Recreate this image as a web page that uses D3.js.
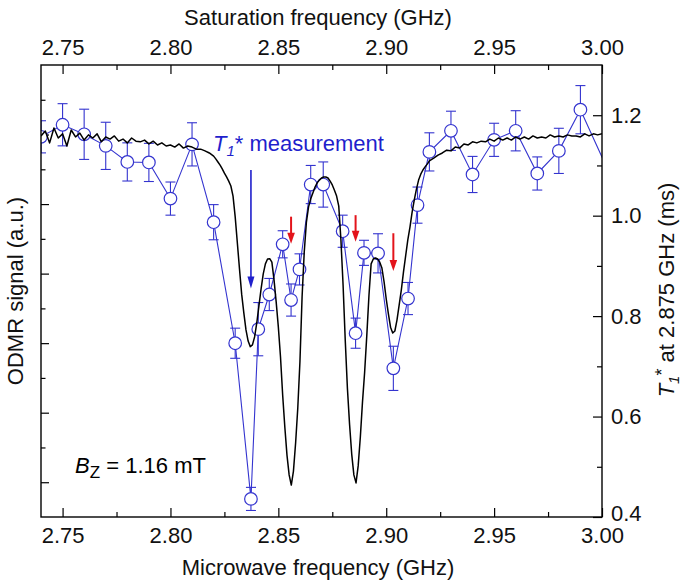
<!DOCTYPE html>
<html><head><meta charset="utf-8">
<script src="https://cdn.jsdelivr.net/npm/d3@7"></script>
<style>body{margin:0;background:#fff}svg{display:block;font-family:"Liberation Sans",Arial,Helvetica,sans-serif}</style>
</head><body><svg id="chart" width="685" height="581"></svg>
<script>
// ODMR trace (left axis, a.u.)
const odmrFreq = [
2.740,2.742,2.744,2.746,2.748,2.750,2.752,2.754,2.756,2.758,
2.760,2.762,2.764,2.766,2.768,2.770,2.772,2.774,2.776,2.778,
2.780,2.782,2.784,2.786,2.788,2.790,2.792,2.794,2.796,2.798,
2.800,2.802,2.804,2.806,2.808,2.810,2.812,2.814,2.816,2.818,
2.820,
2.821,2.822,2.823,2.824,2.825,2.826,2.827,2.828,2.829,2.830,
2.831,2.832,2.833,2.834,2.835,2.836,2.837,2.838,2.839,2.840,
2.841,2.842,2.843,2.844,2.845,2.846,2.847,2.848,2.849,2.850,
2.851,2.852,2.853,2.854,2.855,2.856,2.857,2.858,2.859,2.860,
2.861,2.862,2.863,2.864,2.865,2.866,2.867,2.868,2.869,2.870,
2.871,2.872,2.873,2.874,2.875,2.876,2.877,2.878,2.879,2.880,
2.881,2.882,2.883,2.884,2.885,2.886,2.887,2.888,2.889,2.890,
2.891,2.892,2.893,2.894,2.895,2.896,2.897,2.898,2.899,2.900,
2.901,2.902,2.903,2.904,2.905,2.906,2.907,2.908,2.909,2.910,
2.911,2.912,2.913,2.914,2.915,2.916,2.917,2.918,2.919,2.920,
2.922,2.924,2.926,2.928,2.930,2.932,2.934,2.936,2.938,2.940,
2.942,2.944,2.946,2.948,2.950,2.952,2.954,2.956,2.958,2.960,
2.962,2.964,2.966,2.968,2.970,2.972,2.974,2.976,2.978,2.980,
2.982,2.984,2.986,2.988,2.990,2.992,2.994,2.996,2.998,3.000];
const odmrSignal = [
1.096,1.110,1.076,1.119,1.090,1.102,1.067,1.113,1.093,1.104,
1.084,1.099,1.090,1.102,1.079,1.093,1.087,1.096,1.081,1.087,
1.076,1.090,1.081,1.079,1.084,1.073,1.081,1.070,1.076,1.067,
1.070,1.064,1.073,1.061,1.067,1.064,1.058,1.058,1.053,1.047,
1.038,
1.030,1.021,1.012,1.001,0.989,0.978,0.966,0.952,0.923,0.863,
0.788,0.713,0.641,0.587,0.538,0.506,0.490,0.495,0.518,0.558,
0.607,0.656,0.699,0.728,0.742,0.743,0.733,0.682,0.618,0.546,
0.460,0.351,0.259,0.178,0.121,0.092,0.132,0.213,0.313,0.446,
0.633,0.762,0.848,0.892,0.915,0.932,0.949,0.961,0.969,0.975,
0.978,0.978,0.975,0.966,0.955,0.940,0.923,0.894,0.797,0.667,
0.509,0.371,0.267,0.181,0.121,0.098,0.147,0.230,0.331,0.417,
0.523,0.638,0.728,0.742,0.745,0.742,0.733,0.716,0.676,0.627,
0.584,0.546,0.529,0.535,0.567,0.610,0.653,0.705,0.751,0.797,
0.834,0.877,0.912,0.943,0.969,0.986,0.998,1.007,1.015,1.024,
1.032,1.041,1.047,1.055,1.053,1.064,1.061,1.073,1.070,1.079,
1.076,1.081,1.079,1.087,1.081,1.090,1.084,1.090,1.084,1.093,
1.087,1.093,1.087,1.096,1.090,1.093,1.090,1.099,1.093,1.096,
1.093,1.099,1.096,1.096,1.093,1.102,1.096,1.102,1.099,1.102];

// T1* measurements (right axis, ms)
const t1Freq = [2.740,2.750,2.760,2.770,2.780,2.790,2.800,2.810,2.820,2.830,2.8373,2.8407,2.8458,2.8520,2.8559,2.8598,2.8650,2.8708,2.8798,2.8858,2.8897,2.8962,2.9033,2.9101,2.9145,2.920,2.930,2.940,2.950,2.960,2.970,2.980,2.990,3.010];
const t1Value = [1.157,1.181,1.162,1.139,1.107,1.106,1.034,1.142,0.987,0.746,0.436,0.774,0.843,0.943,0.832,0.893,1.062,1.062,0.969,0.766,0.926,0.925,0.696,0.835,1.021,1.127,1.169,1.082,1.151,1.169,1.084,1.129,1.211,1.022];
const t1Err = [0.032,0.042,0.050,0.047,0.038,0.038,0.033,0.043,0.035,0.030,0.023,0.053,0.032,0.027,0.032,0.031,0.038,0.045,0.032,0.030,0.025,0.039,0.044,0.032,0.036,0.038,0.039,0.036,0.033,0.040,0.033,0.045,0.048,0.040];

// ticks
const freqTicks = [2.75,2.80,2.85,2.90,2.95,3.00];
const freqMinorTicks = [2.775,2.825,2.875,2.925,2.975];
const rightTicks = [0.4,0.6,0.8,1.0,1.2];
const rightMinorTicks = [0.5,0.7,0.9,1.1];
const leftLongTicks = [0.1,0.3,0.5,0.7,0.9,1.1];
const leftShortTicks = [0.2,0.4,0.6,0.8,1.0,1.2];

// annotations
const redArrowFreq = [2.8559,2.8858,2.9033];
const redArrowTop = [0.998,1.001,0.965];
const redArrowTip = [0.944,0.948,0.890];
const blueArrow = {freq: 2.8373, top: 1.091, tip: 0.855};

const L=41, R=602, T=65, B=517;
const x = d3.scaleLinear().domain([2.74,3.00]).range([L,R]);
const yR = d3.scaleLinear().domain([0.4,1.3]).range([B,T]);
const yL = d3.scaleLinear().domain([0,1.3]).range([B,T]);
const svg = d3.select('#chart');
const BLUE = '#3434cf', BLUE_TXT = '#1f1fcc', RED = '#e3141b';

svg.append('defs').append('clipPath').attr('id','clip')
  .append('rect').attr('x',L).attr('y',T).attr('width',R-L).attr('height',B-T);

function styleAxis(g, fs){
  g.attr('font-family',null).attr('font-size',null);
  g.select('.domain').remove();
  g.selectAll('.tick line').attr('stroke','#000').attr('stroke-width',1.2);
  g.selectAll('.tick text').attr('font-size',fs||22).attr('fill','#111');
}
const fmt2 = d3.format('.2f'), fmt1 = d3.format('.1f');
svg.append('g').attr('transform',`translate(0,${B})`)
  .call(d3.axisBottom(x).tickValues(freqTicks).tickSize(-9).tickPadding(10).tickFormat(fmt2)).call(styleAxis);
svg.append('g').attr('transform',`translate(0,${B})`)
  .call(d3.axisBottom(x).tickValues(freqMinorTicks).tickSize(-5).tickFormat('')).call(styleAxis);
svg.append('g').attr('transform',`translate(0,${T})`)
  .call(d3.axisTop(x).tickValues(freqTicks).tickSize(-9).tickPadding(10).tickFormat(fmt2)).call(styleAxis);
svg.append('g').attr('transform',`translate(0,${T})`)
  .call(d3.axisTop(x).tickValues(freqMinorTicks).tickSize(-5).tickFormat('')).call(styleAxis);
const rAx = svg.append('g').attr('transform',`translate(${R},0)`)
  .call(d3.axisRight(yR).tickValues(rightTicks).tickSize(-9).tickPadding(9).tickFormat(fmt1)).call(styleAxis);
rAx.selectAll('.tick text').filter(d=>d===0.4).attr('dy','0.15em');
svg.append('g').attr('transform',`translate(${R},0)`)
  .call(d3.axisRight(yR).tickValues(rightMinorTicks).tickSize(-5).tickFormat('')).call(styleAxis);
svg.append('g').attr('transform',`translate(${L},0)`)
  .call(d3.axisLeft(yL).tickValues(leftLongTicks).tickSize(-8).tickFormat('')).call(styleAxis);
svg.append('g').attr('transform',`translate(${L},0)`)
  .call(d3.axisLeft(yL).tickValues(leftShortTicks).tickSize(-4.5).tickFormat('')).call(styleAxis);

// T1 data
const pts = t1Freq.map((f,i)=>({f, v:t1Value[i], e:t1Err[i]}));
const dataG = svg.append('g').attr('clip-path','url(#clip)');
const eb = dataG.append('g').attr('stroke',BLUE).attr('stroke-width',1.1).attr('fill','none');
pts.forEach(p=>{
  const cx = x(p.f), y1 = yR(p.v+p.e), y2 = yR(p.v-p.e);
  eb.append('line').attr('x1',cx).attr('x2',cx).attr('y1',y1).attr('y2',y2);
  eb.append('line').attr('x1',cx-5).attr('x2',cx+5).attr('y1',y1).attr('y2',y1);
  eb.append('line').attr('x1',cx-5).attr('x2',cx+5).attr('y1',y2).attr('y2',y2);
});
dataG.append('path').datum(pts)
  .attr('d', d3.line().x(d=>x(d.f)).y(d=>yR(d.v)))
  .attr('fill','none').attr('stroke',BLUE).attr('stroke-width',1.1);
dataG.selectAll('circle').data(pts).join('circle')
  .attr('cx',d=>x(d.f)).attr('cy',d=>yR(d.v)).attr('r',6.3)
  .attr('fill','#fff').attr('stroke',BLUE).attr('stroke-width',1.2);

// ODMR trace
const trace = odmrFreq.map((f,i)=>({f, s:odmrSignal[i]}));
svg.append('g').attr('clip-path','url(#clip)').append('path').datum(trace)
  .attr('d', d3.line().x(d=>x(d.f)).y(d=>yL(d.s)))
  .attr('fill','none').attr('stroke','#000').attr('stroke-width',1.5).attr('stroke-linejoin','round');

// frame
svg.append('rect').attr('x',L).attr('y',T).attr('width',R-L).attr('height',B-T)
  .attr('fill','none').attr('stroke','#000').attr('stroke-width',1.4);

// arrows
function arrow(f, vTop, vTip, color, width, headLen, headHalf){
  const ax = x(f), y0 = yR(vTop), y1 = yR(vTip);
  svg.append('line').attr('x1',ax).attr('x2',ax).attr('y1',y0).attr('y2',y1-headLen+1)
    .attr('stroke',color).attr('stroke-width',width);
  svg.append('path').attr('d',`M${ax-headHalf},${y1-headLen}L${ax+headHalf},${y1-headLen}L${ax},${y1}Z`).attr('fill',color);
}
redArrowFreq.forEach((f,i)=>arrow(f, redArrowTop[i], redArrowTip[i], RED, 2, 11, 3.8));
arrow(blueArrow.freq, blueArrow.top, blueArrow.tip, BLUE_TXT, 1.6, 12, 3.5);

// T1* measurement label
const lab = svg.append('text').attr('x',x(2.8197)).attr('y',yR(1.129)).attr('fill',BLUE_TXT).attr('font-size',22);
lab.append('tspan').attr('font-style','italic').text('T');
lab.append('tspan').attr('font-style','italic').attr('font-size',15).attr('dy',5).text('1');
lab.append('tspan').attr('dy',-5).text('*');
lab.append('tspan').text(' measurement');

// Bz label
const bz = svg.append('text').attr('x',x(2.7558)).attr('y',yR(0.487)).attr('fill','#000').attr('font-size',22);
bz.append('tspan').attr('font-style','italic').text('B');
bz.append('tspan').attr('font-size',17).attr('dy',5).text('Z');
bz.append('tspan').attr('dy',-5).text(' = 1.16 mT');

// axis titles
svg.append('text').attr('x',318).attr('y',25).attr('text-anchor','middle').attr('font-size',22).attr('fill','#111').text('Saturation frequency (GHz)');
svg.append('text').attr('x',318).attr('y',575).attr('text-anchor','middle').attr('font-size',22).attr('fill','#111').text('Microwave frequency (GHz)');
svg.append('text').attr('transform','translate(23,291) rotate(-90)').attr('text-anchor','middle').attr('font-size',22).attr('fill','#111').text('ODMR signal (a.u.)');
const rt = svg.append('text').attr('transform','translate(674,290) rotate(-90)').attr('text-anchor','middle').attr('font-size',22).attr('fill','#111');
rt.append('tspan').attr('font-style','italic').text('T');
rt.append('tspan').attr('font-style','italic').attr('font-size',15).attr('dy',5).text('1');
rt.append('tspan').attr('dy',-11).attr('font-size',18).text('*');
rt.append('tspan').attr('dy',6).text(' at 2.875 GHz (ms)');
</script></body></html>
